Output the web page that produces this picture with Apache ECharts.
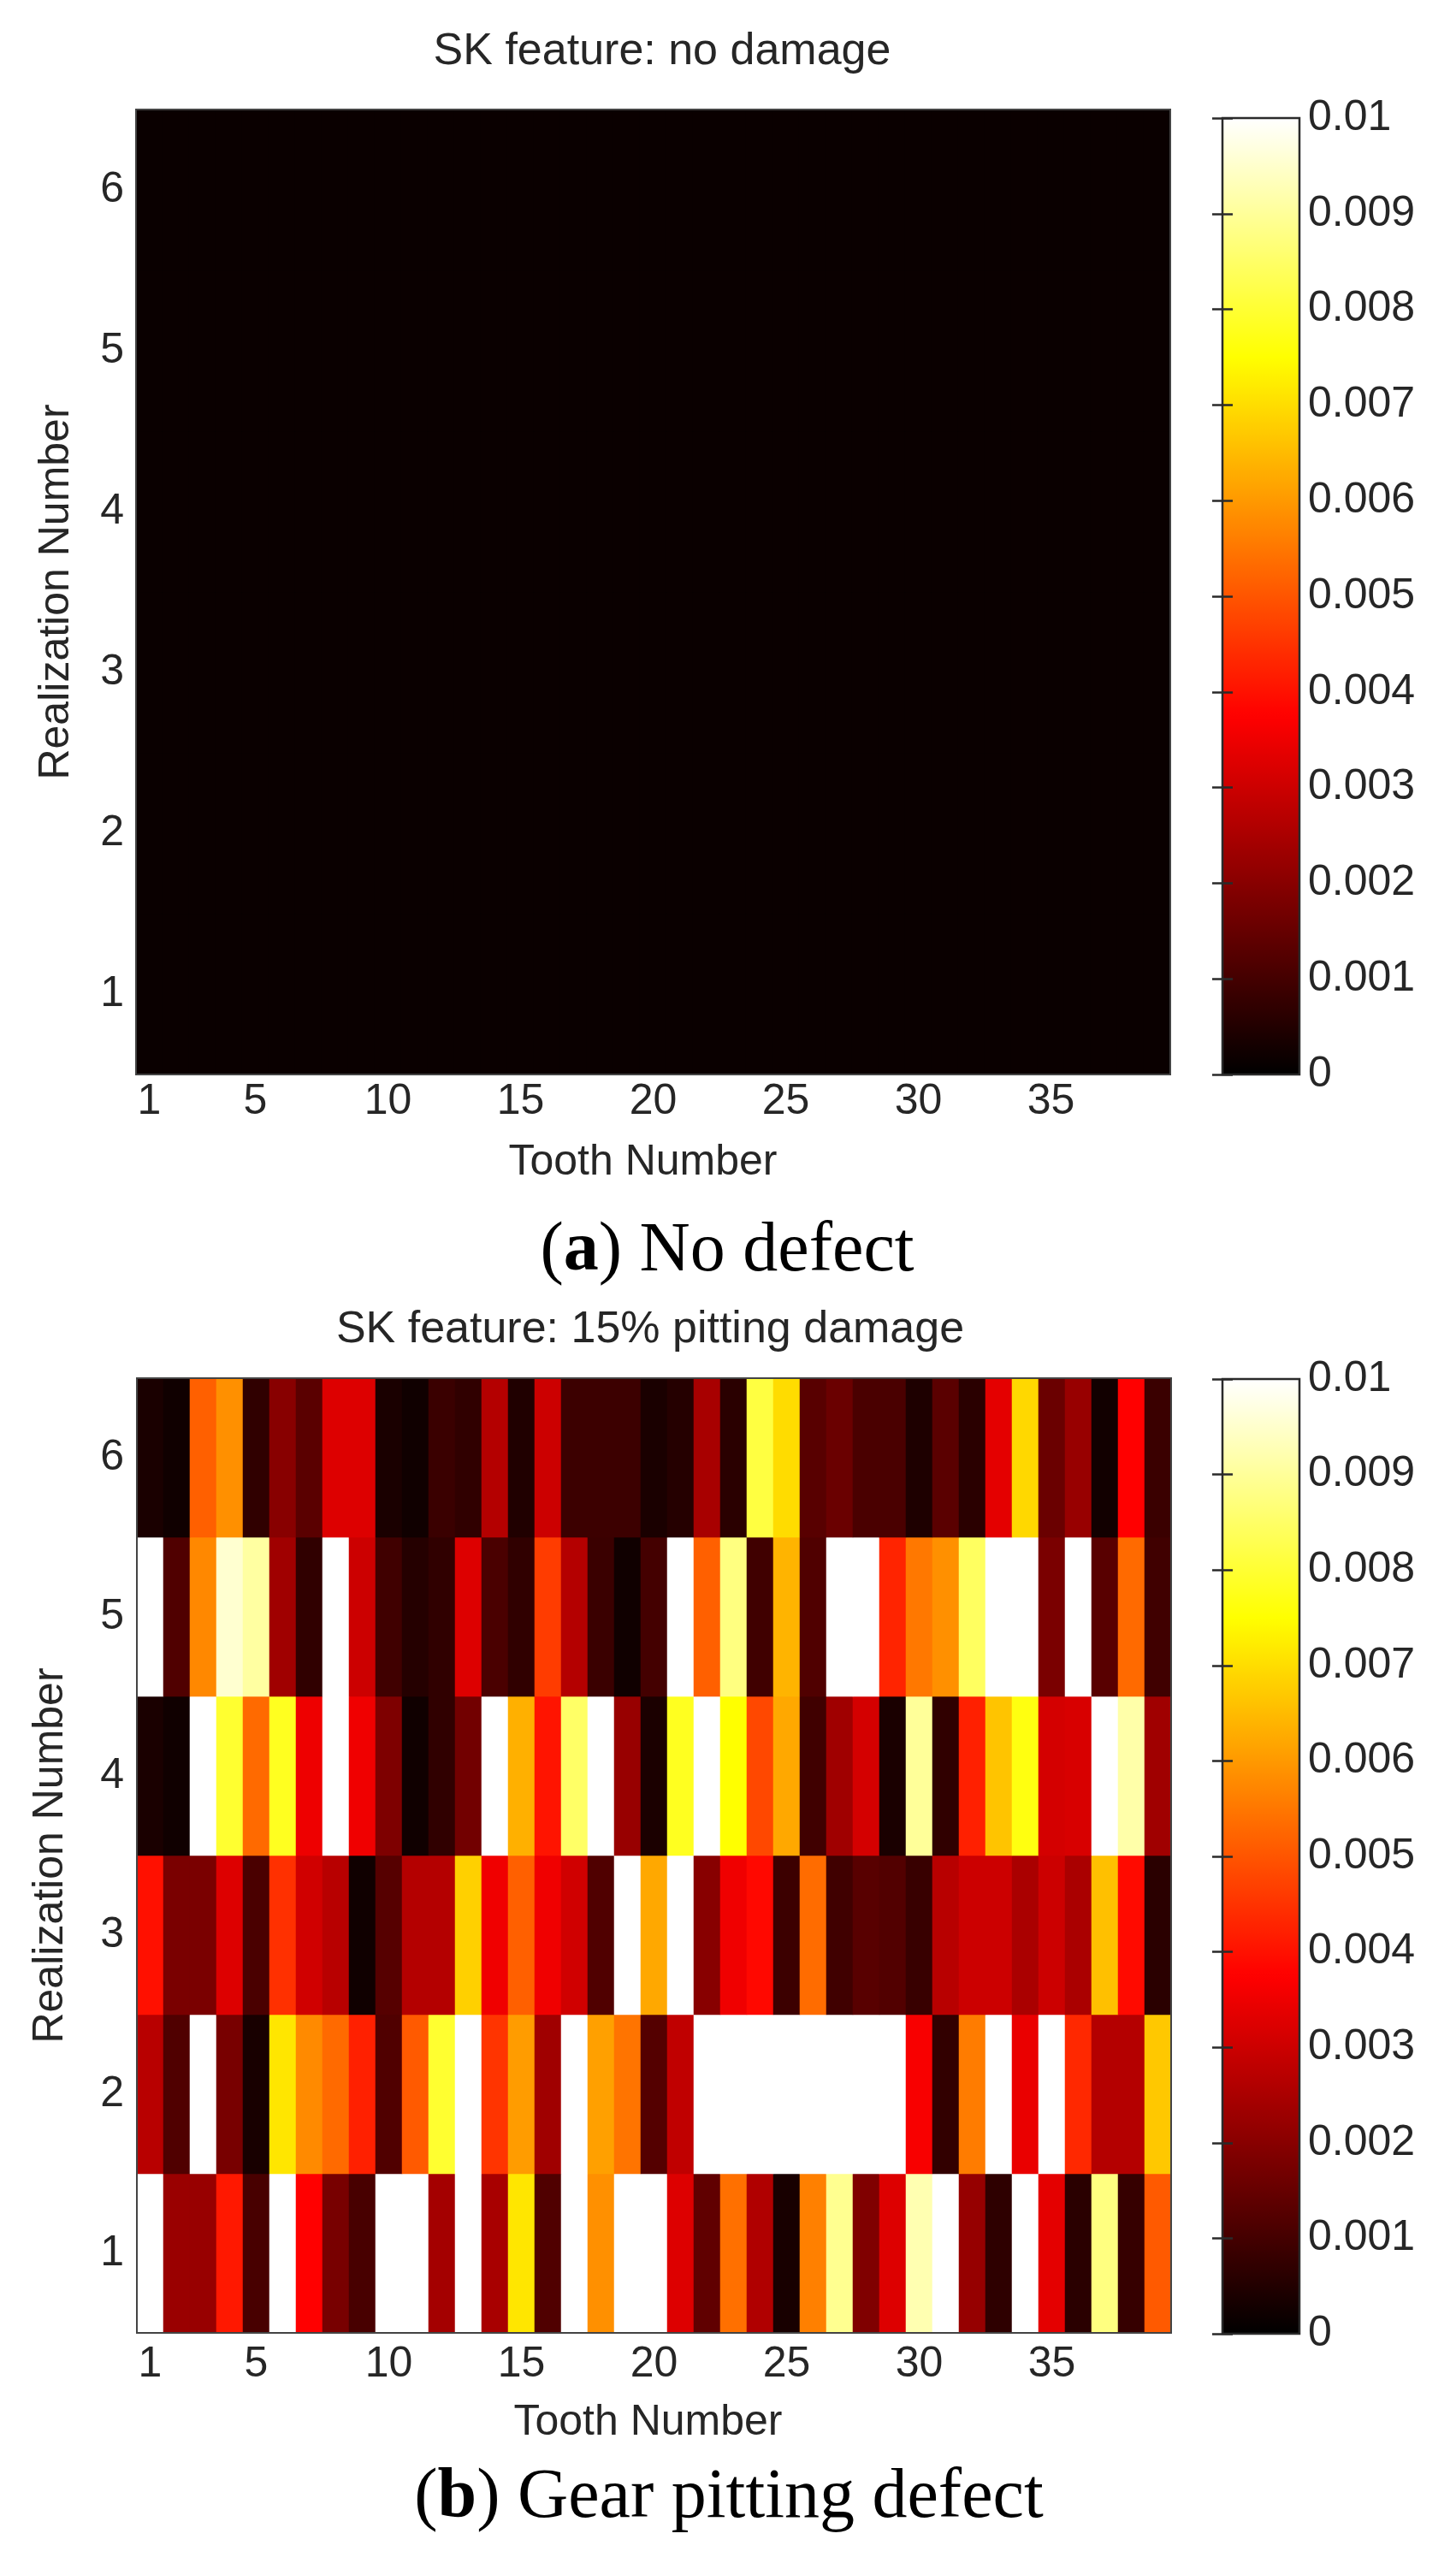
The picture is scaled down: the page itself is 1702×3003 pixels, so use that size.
<!DOCTYPE html>
<html>
<head>
<meta charset="utf-8">
<title>SK feature heatmaps</title>
<script src="https://cdn.jsdelivr.net/npm/echarts@6/dist/echarts.min.js"></script>
<style>
  html, body { margin: 0; padding: 0; background: #fff; }
  #chart { width: 1702px; height: 3003px; }
</style>
</head>
<body>
<div id="chart"></div>
<script>
// categories
const teeth = ['1', '2', '3', '4', '5', '6', '7', '8', '9', '10',
  '11', '12', '13', '14', '15', '16', '17', '18', '19', '20',
  '21', '22', '23', '24', '25', '26', '27', '28', '29', '30',
  '31', '32', '33', '34', '35', '36', '37', '38', '39'];
const realizations = ['1', '2', '3', '4', '5', '6'];
const toothTicks = [1, 5, 10, 15, 20, 25, 30, 35];

// colour scale (matlab "hot"), 0 .. 0.01
const scaleMin = 0;
const scaleMax = 0.01;
const scaleStep = 0.001;
const hotStops = ['#000000', '#550000', '#aa0000', '#ff0000', '#ff5500',
  '#ffaa00', '#ffff00', '#ffff80', '#ffffff'];

// (a) no damage, realization 1..6, tooth 1..39
const noDamage1 = [0.00015, 0.00015, 0.00015, 0.00015, 0.00015, 0.00015, 0.00015, 0.00015, 0.00015, 0.00015,
  0.00015, 0.00015, 0.00015, 0.00015, 0.00015, 0.00015, 0.00015, 0.00015, 0.00015, 0.00015,
  0.00015, 0.00015, 0.00015, 0.00015, 0.00015, 0.00015, 0.00015, 0.00015, 0.00015, 0.00015,
  0.00015, 0.00015, 0.00015, 0.00015, 0.00015, 0.00015, 0.00015, 0.00015, 0.00015];
const noDamage2 = [0.00015, 0.00015, 0.00015, 0.00015, 0.00015, 0.00015, 0.00015, 0.00015, 0.00015, 0.00015,
  0.00015, 0.00015, 0.00015, 0.00015, 0.00015, 0.00015, 0.00015, 0.00015, 0.00015, 0.00015,
  0.00015, 0.00015, 0.00015, 0.00015, 0.00015, 0.00015, 0.00015, 0.00015, 0.00015, 0.00015,
  0.00015, 0.00015, 0.00015, 0.00015, 0.00015, 0.00015, 0.00015, 0.00015, 0.00015];
const noDamage3 = [0.00015, 0.00015, 0.00015, 0.00015, 0.00015, 0.00015, 0.00015, 0.00015, 0.00015, 0.00015,
  0.00015, 0.00015, 0.00015, 0.00015, 0.00015, 0.00015, 0.00015, 0.00015, 0.00015, 0.00015,
  0.00015, 0.00015, 0.00015, 0.00015, 0.00015, 0.00015, 0.00015, 0.00015, 0.00015, 0.00015,
  0.00015, 0.00015, 0.00015, 0.00015, 0.00015, 0.00015, 0.00015, 0.00015, 0.00015];
const noDamage4 = [0.00015, 0.00015, 0.00015, 0.00015, 0.00015, 0.00015, 0.00015, 0.00015, 0.00015, 0.00015,
  0.00015, 0.00015, 0.00015, 0.00015, 0.00015, 0.00015, 0.00015, 0.00015, 0.00015, 0.00015,
  0.00015, 0.00015, 0.00015, 0.00015, 0.00015, 0.00015, 0.00015, 0.00015, 0.00015, 0.00015,
  0.00015, 0.00015, 0.00015, 0.00015, 0.00015, 0.00015, 0.00015, 0.00015, 0.00015];
const noDamage5 = [0.00015, 0.00015, 0.00015, 0.00015, 0.00015, 0.00015, 0.00015, 0.00015, 0.00015, 0.00015,
  0.00015, 0.00015, 0.00015, 0.00015, 0.00015, 0.00015, 0.00015, 0.00015, 0.00015, 0.00015,
  0.00015, 0.00015, 0.00015, 0.00015, 0.00015, 0.00015, 0.00015, 0.00015, 0.00015, 0.00015,
  0.00015, 0.00015, 0.00015, 0.00015, 0.00015, 0.00015, 0.00015, 0.00015, 0.00015];
const noDamage6 = [0.00015, 0.00015, 0.00015, 0.00015, 0.00015, 0.00015, 0.00015, 0.00015, 0.00015, 0.00015,
  0.00015, 0.00015, 0.00015, 0.00015, 0.00015, 0.00015, 0.00015, 0.00015, 0.00015, 0.00015,
  0.00015, 0.00015, 0.00015, 0.00015, 0.00015, 0.00015, 0.00015, 0.00015, 0.00015, 0.00015,
  0.00015, 0.00015, 0.00015, 0.00015, 0.00015, 0.00015, 0.00015, 0.00015, 0.00015];

// (b) 15% pitting damage, realization 1..6, tooth 1..39 (white cells = 0.01, top of scale)
const pitting1 = [0.01, 0.00226, 0.00224, 0.00410, 0.00106, 0.01, 0.00375, 0.00176, 0.00106, 0.01,
  0.01, 0.00241, 0.01, 0.00247, 0.00713, 0.00118, 0.01, 0.00587, 0.01, 0.01,
  0.00325, 0.00141, 0.00540, 0.00259, 0.00035, 0.00563, 0.00891, 0.00188, 0.00325, 0.00923,
  0.01, 0.00221, 0.00068, 0.01, 0.00335, 0.00062, 0.00875, 0.00079, 0.00507];
const pitting2 = [0.00271, 0.00118, 0.01, 0.00176, 0.00035, 0.00713, 0.00578, 0.00531, 0.00422, 0.00118,
  0.00507, 0.00797, 0.01, 0.00451, 0.00604, 0.00235, 0.01, 0.00610, 0.00546, 0.00124,
  0.00282, 0.01, 0.01, 0.01, 0.01, 0.01, 0.01, 0.01, 0.01, 0.00365,
  0.00074, 0.00557, 0.01, 0.00344, 0.01, 0.00434, 0.00265, 0.00265, 0.00669];
const pitting3 = [0.00399, 0.00179, 0.00179, 0.00325, 0.00109, 0.00446, 0.00306, 0.00271, 0.00024, 0.00127,
  0.00265, 0.00265, 0.00681, 0.00353, 0.00516, 0.00353, 0.00306, 0.00118, 0.01, 0.00622,
  0.01, 0.00200, 0.00353, 0.00387, 0.00088, 0.00534, 0.00094, 0.00129, 0.00121, 0.00082,
  0.00271, 0.00300, 0.00300, 0.00250, 0.00300, 0.00250, 0.00657, 0.00390, 0.00062];
const pitting4 = [0.00038, 0.00024, 0.01, 0.00797, 0.00531, 0.00781, 0.00350, 0.01, 0.00353, 0.00185,
  0.00024, 0.00071, 0.00168, 0.01, 0.00634, 0.00405, 0.00850, 0.01, 0.00224, 0.00040,
  0.00781, 0.01, 0.00750, 0.00481, 0.00622, 0.00094, 0.00235, 0.00312, 0.00038, 0.00900,
  0.00071, 0.00422, 0.00663, 0.00766, 0.00312, 0.00318, 0.01, 0.00915, 0.00235];
const pitting5 = [0.01, 0.00118, 0.00575, 0.00954, 0.00907, 0.00235, 0.00071, 0.01, 0.00300, 0.00094,
  0.00054, 0.00071, 0.00325, 0.00109, 0.00071, 0.00463, 0.00265, 0.00085, 0.00024, 0.00100,
  0.01, 0.00516, 0.00875, 0.00094, 0.00640, 0.00118, 0.01, 0.01, 0.00428, 0.00551,
  0.00587, 0.00844, 0.01, 0.01, 0.00179, 0.01, 0.00129, 0.00531, 0.00094];
const pitting6 = [0.00038, 0.00024, 0.00516, 0.00587, 0.00071, 0.00200, 0.00132, 0.00325, 0.00325, 0.00038,
  0.00024, 0.00085, 0.00071, 0.00265, 0.00047, 0.00300, 0.00088, 0.00088, 0.00088, 0.00038,
  0.00054, 0.00247, 0.00062, 0.00813, 0.00699, 0.00129, 0.00156, 0.00109, 0.00109, 0.00044,
  0.00132, 0.00062, 0.00335, 0.00693, 0.00156, 0.00224, 0.00026, 0.00375, 0.00085];

// layout (px) - whole-pixel cells so no seams between them
const plotA = { left: 159, top: 128, width: 1209, height: 1128 };
const plotB = { left: 160, top: 1611, width: 1209, height: 1116 };
const barA = { left: 1429, top: 138, width: 90, height: 1118 };
const barB = { left: 1429, top: 1612, width: 90, height: 1116 };

const sans = 'Liberation Sans';
const serif = 'Liberation Serif';
const textColor = '#262626';

// rows -> [toothIndex, realizationIndex, value]
const toHeat = (rows) => {
  const out = [];
  rows.forEach((row, r) => {
    row.forEach((v, c) => out.push([c, r, v]));
  });
  return out;
};

const plotGrid = (p) => ({
  left: p.left, top: p.top, width: p.width, height: p.height,
  show: true, backgroundColor: 'transparent', borderColor: '#444', borderWidth: 2, z: 5
});
const barGrid = (b) => ({
  left: b.left, top: b.top, width: b.width, height: b.height,
  show: true, backgroundColor: 'transparent', borderColor: '#2a2a2a', borderWidth: 2.5, z: 10
});

const toothAxis = (gridIndex, margin, nameGap, nameShift) => ({
  gridIndex: gridIndex,
  type: 'category',
  data: teeth,
  axisLine: { show: false },
  axisTick: { show: false },
  splitLine: { show: false },
  axisLabel: {
    interval: (i, v) => toothTicks.includes(Number(v)),
    margin: margin,
    fontFamily: sans, fontSize: 50, color: textColor
  },
  name: 'Tooth Number',
  nameLocation: 'middle',
  nameGap: nameGap,
  nameTextStyle: {
    fontFamily: sans, fontSize: 50, color: textColor,
    padding: [0, nameShift * 2, 0, 0]
  }
});
const realAxis = (gridIndex, margin, nameGap) => ({
  gridIndex: gridIndex,
  type: 'category',
  data: realizations,
  axisLine: { show: false },
  axisTick: { show: false },
  splitLine: { show: false },
  axisLabel: { interval: 0, margin: margin, fontFamily: sans, fontSize: 50, color: textColor },
  name: 'Realization Number',
  nameLocation: 'middle',
  nameGap: nameGap,
  nameTextStyle: { fontFamily: sans, fontSize: 50, color: textColor }
});
const scaleAxis = (gridIndex, side) => ({
  gridIndex: gridIndex,
  type: 'value',
  position: side,
  min: scaleMin,
  max: scaleMax,
  interval: scaleStep,
  z: 10,
  axisLine: { show: false },
  splitLine: { show: false },
  axisTick: { show: true, inside: true, length: 12, lineStyle: { color: '#2a2a2a', width: 2.5 } },
  axisLabel: {
    show: side === 'right',
    margin: 10,
    fontFamily: sans, fontSize: 50, color: textColor,
    formatter: (v) => String(Number(v.toFixed(3)))
  }
});
const hiddenX = (gridIndex) => ({ gridIndex: gridIndex, type: 'value', min: 0, max: 1, show: false });

const colorBar = (seriesIndex, b) => ({
  type: 'continuous',
  seriesIndex: seriesIndex,
  min: scaleMin,
  max: scaleMax,
  calculable: false,
  hoverLink: false,
  orient: 'vertical',
  align: 'left',
  padding: 0,
  left: b.left,
  top: b.top,
  itemWidth: b.width,
  itemHeight: b.height,
  inRange: { color: hotStops }
});

const label = (x, y, text, size, family, extra) => ({
  type: 'text',
  x: x,
  y: y,
  silent: true,
  style: Object.assign({
    text: text,
    fontSize: size,
    fontFamily: family,
    fill: textColor,
    align: 'center', verticalAlign: 'middle',
    textAlign: 'center', textVerticalAlign: 'middle'
  }, extra || {})
});
const capRich = {
  b: { fontSize: 82, fontFamily: serif, fontWeight: 'bold', fill: '#000' }
};

const chart = echarts.init(document.getElementById('chart'));
chart.setOption({
  animation: false,
  backgroundColor: '#fff',
  grid: [plotGrid(plotA), plotGrid(plotB), barGrid(barA), barGrid(barB)],
  xAxis: [toothAxis(0, 7, 78, 12), toothAxis(1, 12, 80, 7), hiddenX(2), hiddenX(3)],
  yAxis: [realAxis(0, 14, 68), realAxis(1, 15, 76),
    scaleAxis(2, 'right'), scaleAxis(2, 'left'),
    scaleAxis(3, 'right'), scaleAxis(3, 'left')],
  visualMap: [colorBar(0, barA), colorBar(1, barB)],
  series: [
    {
      name: 'no damage',
      type: 'heatmap',
      xAxisIndex: 0,
      yAxisIndex: 0,
      data: toHeat([noDamage1, noDamage2, noDamage3, noDamage4, noDamage5, noDamage6]),
      emphasis: { disabled: true }
    },
    {
      name: '15% pitting damage',
      type: 'heatmap',
      xAxisIndex: 1,
      yAxisIndex: 1,
      data: toHeat([pitting1, pitting2, pitting3, pitting4, pitting5, pitting6]),
      emphasis: { disabled: true }
    }
  ],
  graphic: [
    label(774, 61, 'SK feature: no damage', 52, sans),
    label(760, 1555, 'SK feature: 15% pitting damage', 52, sans),
    label(850, 1463, '({b|a}) No defect', 82, serif, { fill: '#000', rich: capRich }),
    label(852, 2920, '({b|b}) Gear pitting defect', 82, serif, { fill: '#000', rich: capRich })
  ]
});
</script>
</body>
</html>
